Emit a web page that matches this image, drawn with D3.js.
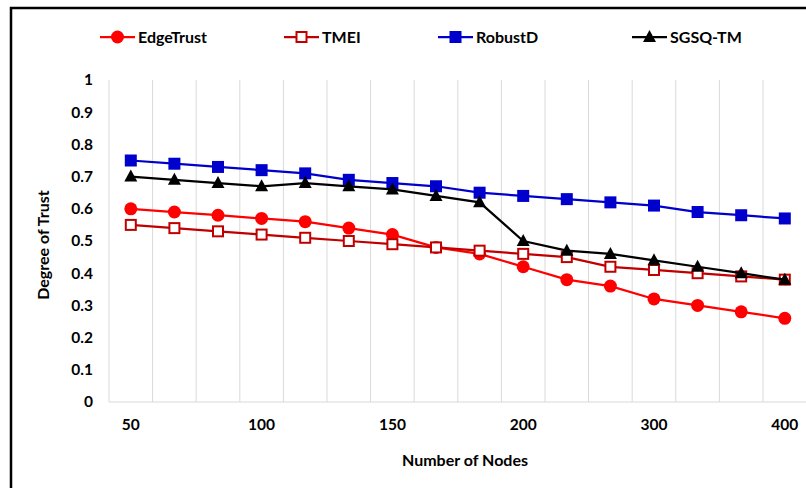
<!DOCTYPE html>
<html>
<head>
<meta charset="utf-8">
<script src="https://cdn.jsdelivr.net/npm/d3@7"></script>
<style>
  body { margin: 0; background: #fff; }
  text { font-family: Lato, "Open Sans", sans-serif; font-weight: 700; fill: #000; }
</style>
</head>
<body>
<div id="chart"></div>
<script>
// x categories (only every third one carries a label in the original)
var nodes = ["50", "", "", "100", "", "", "150", "", "", "200", "", "", "300", "", "", "400"];
var yTicks = [0, 0.1, 0.2, 0.3, 0.4, 0.5, 0.6, 0.7, 0.8, 0.9, 1];

var edgeTrust = [0.60, 0.59, 0.58, 0.57, 0.56, 0.54, 0.52, 0.48, 0.46, 0.42, 0.38, 0.36, 0.32, 0.30, 0.28, 0.26];
var tmei      = [0.55, 0.54, 0.53, 0.52, 0.51, 0.50, 0.49, 0.48, 0.47, 0.46, 0.45, 0.42, 0.41, 0.40, 0.39, 0.38];
var robustD   = [0.75, 0.74, 0.73, 0.72, 0.71, 0.69, 0.68, 0.67, 0.65, 0.64, 0.63, 0.62, 0.61, 0.59, 0.58, 0.57];
var sgsqTM    = [0.70, 0.69, 0.68, 0.67, 0.68, 0.67, 0.66, 0.64, 0.62, 0.50, 0.47, 0.46, 0.44, 0.42, 0.40, 0.38];

var series = [
  {name: "EdgeTrust", values: edgeTrust, color: "#ff0000", marker: "circle"},
  {name: "TMEI",      values: tmei,      color: "#c00000", marker: "hollowSquare"},
  {name: "RobustD",   values: robustD,   color: "#0000cc", marker: "square"},
  {name: "SGSQ-TM",   values: sgsqTM,    color: "#000000", marker: "triangle"}
];

var w = 806, h = 488;
var plotLeft = 109, plotRight = 806.6, plotTop = 80, plotBottom = 402;

var svg = d3.select("#chart").append("svg")
    .attr("width", w)
    .attr("height", h);

// outer frame (right and bottom edges fall outside the picture)
svg.append("rect")
  .attr("x", 11).attr("y", 8)
  .attr("width", 820).attr("height", 500)
  .attr("fill", "none")
  .attr("stroke", "#000")
  .attr("stroke-width", 2.5);

var idx = d3.range(nodes.length);

var x = d3.scaleBand()
    .domain(idx)
    .range([plotLeft, plotRight]);

var y = d3.scaleLinear()
    .domain([0, 1])
    .range([plotBottom, plotTop]);

// vertical gridlines on category boundaries
svg.selectAll("line.grid")
  .data(d3.range(nodes.length + 1))
  .enter()
  .append("line")
    .attr("class", "grid")
    .attr("x1", function(d){ return plotLeft + d * x.step(); })
    .attr("x2", function(d){ return plotLeft + d * x.step(); })
    .attr("y1", plotTop)
    .attr("y2", plotBottom)
    .attr("stroke", "#d9d9d9")
    .attr("stroke-width", 1);

// baseline
svg.append("line")
  .attr("x1", plotLeft).attr("x2", plotRight)
  .attr("y1", plotBottom).attr("y2", plotBottom)
  .attr("stroke", "#d9d9d9");

// y tick labels
svg.selectAll("text.ytick")
  .data(yTicks)
  .enter()
  .append("text")
    .attr("class", "ytick")
    .attr("x", 93)
    .attr("y", function(d){ return y(d); })
    .attr("dy", "0.35em")
    .attr("text-anchor", "end")
    .attr("font-size", "15.5px")
    .text(function(d){ return d; });

// x tick labels
svg.selectAll("text.xtick")
  .data(idx)
  .enter()
  .append("text")
    .attr("class", "xtick")
    .attr("x", function(d){ return x(d) + x.bandwidth() / 2; })
    .attr("y", 425)
    .attr("dy", "0.35em")
    .attr("text-anchor", "middle")
    .attr("font-size", "15.5px")
    .text(function(d){ return nodes[d]; });

// axis titles
svg.append("text")
  .attr("x", 465).attr("y", 460)
  .attr("dy", "0.35em")
  .attr("text-anchor", "middle")
  .attr("font-size", "16px")
  .text("Number of Nodes");

svg.append("text")
  .attr("transform", "translate(43,245) rotate(-90)")
  .attr("dy", "0.35em")
  .attr("text-anchor", "middle")
  .attr("font-size", "16px")
  .text("Degree of Trust");

function drawMarker(g, type, color) {
  if (type === "circle") {
    g.append("circle").attr("r", 6.5).attr("fill", color);
  } else if (type === "square") {
    g.append("rect").attr("x", -6).attr("y", -6).attr("width", 12).attr("height", 12).attr("fill", color);
  } else if (type === "hollowSquare") {
    g.append("rect").attr("x", -5).attr("y", -5).attr("width", 10).attr("height", 10)
      .attr("fill", "#fff").attr("stroke", color).attr("stroke-width", 2);
  } else {
    g.append("path").attr("d", "M0,-7L6.5,5L-6.5,5Z").attr("fill", color);
  }
}

var line = d3.line()
    .x(function(d, i){ return x(i) + x.bandwidth() / 2; })
    .y(function(d){ return y(d); });

series.forEach(function(s) {
  svg.append("path")
    .datum(s.values)
    .attr("d", line)
    .attr("fill", "none")
    .attr("stroke", s.color)
    .attr("stroke-width", 2.25);

  s.values.forEach(function(v, i) {
    var g = svg.append("g")
      .attr("transform", "translate(" + (x(i) + x.bandwidth() / 2) + "," + y(v) + ")");
    drawMarker(g, s.marker, s.color);
  });
});

// legend
var legendX = [100, 284, 438, 632];
series.forEach(function(s, i) {
  var lg = svg.append("g").attr("transform", "translate(" + legendX[i] + ",37)");
  lg.append("line")
    .attr("x1", 0).attr("x2", 35)
    .attr("stroke", s.color)
    .attr("stroke-width", 2.25);
  var m = lg.append("g").attr("transform", "translate(17.5,0)");
  drawMarker(m, s.marker, s.color);
  lg.append("text")
    .attr("x", 38)
    .attr("dy", "0.35em")
    .attr("font-size", "16px")
    .text(s.name);
});
</script>
</body>
</html>
